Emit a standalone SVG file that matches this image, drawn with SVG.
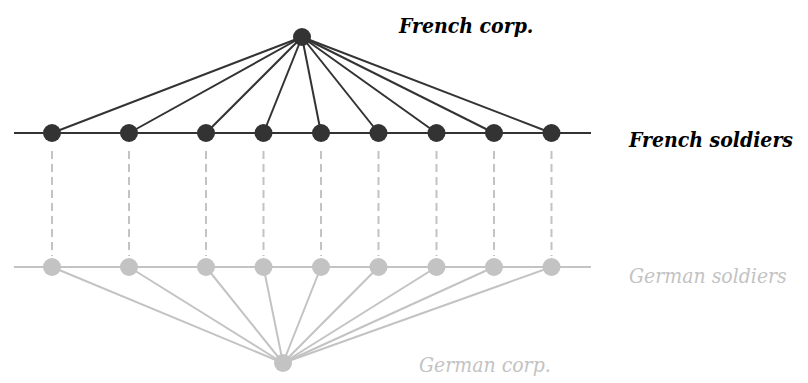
<svg xmlns="http://www.w3.org/2000/svg" width="808" height="383" viewBox="0 0 808 383">
<style>
.fl{stroke:#333;stroke-width:2;fill:none}
.gl{stroke:#c3c3c3;stroke-width:2;fill:none}
.dash{stroke:#c3c3c3;stroke-width:2;stroke-dasharray:8 5;fill:none}
.fn{fill:#333}
.gn{fill:#c3c3c3}
.lbl{font-family:'DejaVu Serif Condensed','DejaVu Serif',serif;font-stretch:condensed;font-size:21px;font-style:italic}
.ft{font-weight:bold;fill:#000}
.gt{fill:#c3c3c3}
</style>
<rect width="808" height="383" fill="#fff"/>
<g id="connectors">
<line class="fl" x1="14" y1="133" x2="591" y2="133"/>
<line class="gl" x1="14" y1="267" x2="591" y2="267"/>
<g class="fl">
<line x1="302" y1="37" x2="52" y2="133"/>
<line x1="302" y1="37" x2="129" y2="133"/>
<line x1="302" y1="37" x2="206" y2="133"/>
<line x1="302" y1="37" x2="263.5" y2="133"/>
<line x1="302" y1="37" x2="321" y2="133"/>
<line x1="302" y1="37" x2="378.5" y2="133"/>
<line x1="302" y1="37" x2="436.5" y2="133"/>
<line x1="302" y1="37" x2="494" y2="133"/>
<line x1="302" y1="37" x2="551.5" y2="133"/>
</g>
<g class="gl">
<line x1="283" y1="363" x2="52" y2="267"/>
<line x1="283" y1="363" x2="129" y2="267"/>
<line x1="283" y1="363" x2="206" y2="267"/>
<line x1="283" y1="363" x2="263.5" y2="267"/>
<line x1="283" y1="363" x2="321" y2="267"/>
<line x1="283" y1="363" x2="378.5" y2="267"/>
<line x1="283" y1="363" x2="436.5" y2="267"/>
<line x1="283" y1="363" x2="494" y2="267"/>
<line x1="283" y1="363" x2="551.5" y2="267"/>
</g>
<g class="dash">
<line x1="52" y1="151" x2="52" y2="256"/>
<line x1="129" y1="151" x2="129" y2="256"/>
<line x1="206" y1="151" x2="206" y2="256"/>
<line x1="263.5" y1="151" x2="263.5" y2="256"/>
<line x1="321" y1="151" x2="321" y2="256"/>
<line x1="378.5" y1="151" x2="378.5" y2="256"/>
<line x1="436.5" y1="151" x2="436.5" y2="256"/>
<line x1="494" y1="151" x2="494" y2="256"/>
<line x1="551.5" y1="151" x2="551.5" y2="256"/>
</g>
</g>
<g id="french-corp"><circle class="fn" cx="302" cy="37" r="9"/></g>
<g id="french-soldiers">
<circle class="fn" cx="52" cy="133" r="9"/>
<circle class="fn" cx="129" cy="133" r="9"/>
<circle class="fn" cx="206" cy="133" r="9"/>
<circle class="fn" cx="263.5" cy="133" r="9"/>
<circle class="fn" cx="321" cy="133" r="9"/>
<circle class="fn" cx="378.5" cy="133" r="9"/>
<circle class="fn" cx="436.5" cy="133" r="9"/>
<circle class="fn" cx="494" cy="133" r="9"/>
<circle class="fn" cx="551.5" cy="133" r="9"/>
</g>
<g id="german-soldiers">
<circle class="gn" cx="52" cy="267" r="9"/>
<circle class="gn" cx="129" cy="267" r="9"/>
<circle class="gn" cx="206" cy="267" r="9"/>
<circle class="gn" cx="263.5" cy="267" r="9"/>
<circle class="gn" cx="321" cy="267" r="9"/>
<circle class="gn" cx="378.5" cy="267" r="9"/>
<circle class="gn" cx="436.5" cy="267" r="9"/>
<circle class="gn" cx="494" cy="267" r="9"/>
<circle class="gn" cx="551.5" cy="267" r="9"/>
</g>
<g id="german-corp"><circle class="gn" cx="283" cy="363" r="9"/></g>
<g id="labels">
<text class="lbl ft" x="399" y="33">French corp.</text>
<text class="lbl ft" x="629" y="147">French soldiers</text>
<text class="lbl gt" x="629" y="283">German soldiers</text>
<text class="lbl gt" x="419" y="372">German corp.</text>
</g>
</svg>
